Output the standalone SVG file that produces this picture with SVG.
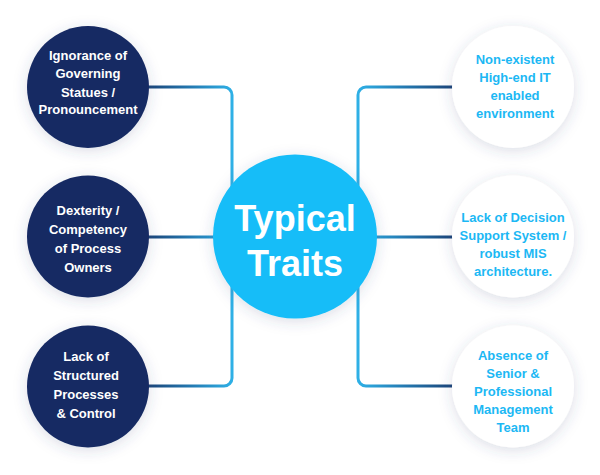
<svg xmlns="http://www.w3.org/2000/svg" width="600" height="475" viewBox="0 0 600 475">
<defs>
<filter id="sh" x="-40%" y="-40%" width="180%" height="180%">
<feDropShadow dx="0" dy="3" stdDeviation="7" flood-color="#3a4a7a" flood-opacity="0.18"/>
</filter>
<linearGradient id="gl" gradientUnits="userSpaceOnUse" x1="148" y1="0" x2="232" y2="0">
<stop offset="0" stop-color="#1b4478"/>
<stop offset="0.5" stop-color="#2378b0"/>
<stop offset="1" stop-color="#2eb0e6"/>
</linearGradient>
<linearGradient id="gr" gradientUnits="userSpaceOnUse" x1="453" y1="0" x2="358" y2="0">
<stop offset="0" stop-color="#1b4478"/>
<stop offset="0.5" stop-color="#2378b0"/>
<stop offset="1" stop-color="#2eb0e6"/>
</linearGradient>
<style>
.cn{fill:none;stroke-width:3;stroke-linecap:round}
.dk{fill:#142a63;filter:url(#sh)}
.wt{fill:#ffffff;filter:url(#sh)}
.tl{font-family:"Liberation Sans",Arial,sans-serif;font-weight:700;font-size:13px;fill:#ffffff;text-anchor:middle}
.tr{font-family:"Liberation Sans",Arial,sans-serif;font-weight:700;font-size:13px;fill:#1cb8f4;text-anchor:middle}
.tc{font-family:"Liberation Sans",Arial,sans-serif;font-weight:700;font-size:36px;fill:#ffffff;text-anchor:middle}
</style>
</defs>
<rect width="600" height="475" fill="#ffffff"/>
<g id="connectors">
<path class="cn" stroke="url(#gl)" d="M148 87 H224 A8 8 0 0 1 232 95 V237"/>
<path class="cn" stroke="url(#gl)" d="M148 386 H224 A8 8 0 0 0 232 378 V237"/>
<path class="cn" stroke="url(#gl)" d="M148 237 H232"/>
<path class="cn" stroke="url(#gr)" d="M453 87 H366 A8 8 0 0 0 358 95 V237"/>
<path class="cn" stroke="url(#gr)" d="M453 386 H366 A8 8 0 0 1 358 378 V237"/>
<path class="cn" stroke="url(#gr)" d="M453 237 H358"/>
</g>
<g id="center">
<circle cx="295" cy="236.5" r="82" fill="#17bdf8" filter="url(#sh)"/>
<text class="tc" x="295" y="231">Typical</text>
<text class="tc" x="295" y="276">Traits</text>
</g>
<g id="n1">
<circle class="dk" cx="88" cy="87" r="61"/>
<text class="tl" x="88" y="60">Ignorance of</text>
<text class="tl" x="88" y="78">Governing</text>
<text class="tl" x="88" y="96.5">Statues /</text>
<text class="tl" x="88" y="114">Pronouncement</text>
</g>
<g id="n2">
<circle class="dk" cx="88" cy="236.5" r="61"/>
<text class="tl" x="88" y="215">Dexterity /</text>
<text class="tl" x="88" y="234">Competency</text>
<text class="tl" x="88" y="253">of Process</text>
<text class="tl" x="88" y="272">Owners</text>
</g>
<g id="n3">
<circle class="dk" cx="88" cy="386.5" r="61"/>
<text class="tl" x="86" y="361">Lack of</text>
<text class="tl" x="86" y="380">Structured</text>
<text class="tl" x="86" y="399">Processes</text>
<text class="tl" x="86" y="418">&amp; Control</text>
</g>
<g id="n4">
<circle class="wt" cx="513" cy="87" r="61"/>
<text class="tr" x="515" y="64">Non-existent</text>
<text class="tr" x="515" y="82">High-end IT</text>
<text class="tr" x="515" y="100">enabled</text>
<text class="tr" x="515" y="118">environment</text>
</g>
<g id="n5">
<circle class="wt" cx="513" cy="236.5" r="61"/>
<text class="tr" x="513" y="222">Lack of Decision</text>
<text class="tr" x="513" y="240">Support System /</text>
<text class="tr" x="513" y="258">robust MIS</text>
<text class="tr" x="513" y="276">architecture.</text>
</g>
<g id="n6">
<circle class="wt" cx="513" cy="386.5" r="61"/>
<text class="tr" x="513" y="360">Absence of</text>
<text class="tr" x="513" y="378">Senior &amp;</text>
<text class="tr" x="513" y="396">Professional</text>
<text class="tr" x="513" y="414">Management</text>
<text class="tr" x="513" y="432">Team</text>
</g>
</svg>
